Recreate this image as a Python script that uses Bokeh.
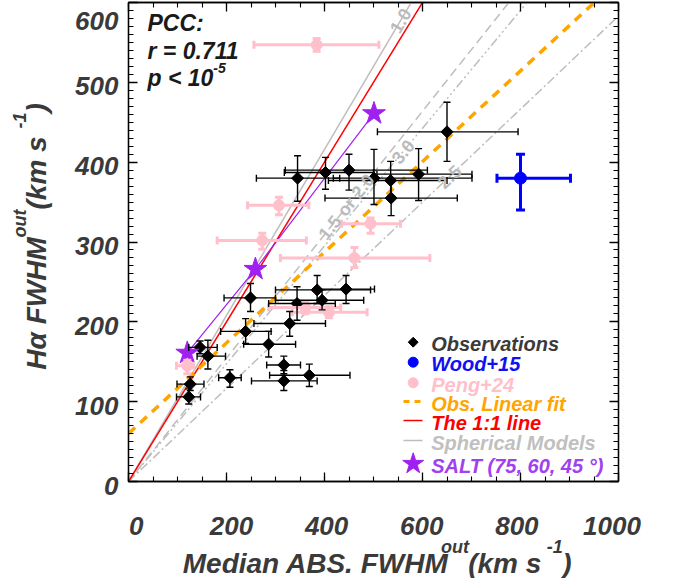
import math
from bokeh.plotting import figure
from bokeh.layouts import row, column
from bokeh.models import (Range1d, LinearAxis, SingleIntervalTicker, Label, Whisker,
                          ColumnDataSource, TeeHead)
from bokeh.embed import file_html
from bokeh.resources import INLINE

# ---------------- data ----------------
# Observations (black diamonds)
obs_x   = [650, 345, 402, 450, 501, 535, 592, 536, 249, 344, 385, 444, 395, 329, 239, 286, 317, 317, 369, 207, 146, 162, 126, 123]
obs_xlo = [508, 261, 318, 320, 418, 408, 507, 401, 195, 286, 300, 385, 300, 256, 188, 235, 282, 251, 288, 184, 123, 140, 99, 98]
obs_xhi = [795, 431, 500, 610, 701, 650, 701, 671, 300, 422, 494, 502, 480, 402, 291, 341, 351, 385, 452, 230, 181, 198, 154, 147]
obs_y   = [438, 380, 387, 390, 380, 377, 385, 355, 230, 223, 240, 241, 227, 198, 188, 172, 146, 126, 133, 130, 168, 157, 122, 106]
obs_ylo = [401, 351, 366, 365, 347, 354, 352, 333, 213, 202, 223, 223, 215, 182, 173, 156, 135, 114, 119, 118, 160, 141, 114, 97]
obs_yhi = [475, 408, 406, 410, 416, 401, 417, 377, 248, 244, 258, 258, 240, 213, 204, 188, 157, 139, 147, 140, 176, 177, 131, 116]

# Wood+15 (blue)
wood_x, wood_xlo, wood_xhi = [800], [752], [902]
wood_y, wood_ylo, wood_yhi = [380], [340], [410]

# Peng+24 (pink)
peng_x   = [384, 307, 273, 494, 461, 361, 409, 120]
peng_xlo = [256, 243, 181, 435, 310, 286, 334, 98]
peng_xhi = [511, 368, 363, 555, 615, 433, 487, 133]
peng_y   = [547, 346, 302, 323, 280, 218, 212, 145]
peng_ylo = [539, 334, 291, 311, 268, 210, 205, 135]
peng_yhi = [555, 356, 311, 330, 293, 225, 219, 152]

# SALT models (75, 60, 45 deg)
salt_x = [501, 259, 120]
salt_y = [461, 266, 161]

# Observational linear fit  y = a + b x
fit_a, fit_b = 60.0, 0.568

# Spherical models: slopes and labels
sph_slope = [1.04, 0.773, 0.7375, 0.583]
sph_label = ["1.0", "1.5 or 2.0", "3.0", "2.5"]
sph_dash  = ["solid", "9 5", "9 3 2 3 2 3 2 3", "9 3 2 3"]
sph_lab_x = [555, 445, 560, 655]

pcc_r = "0.711"

x_tick_values = [0, 200, 400, 600, 800, 1000]
y_tick_values = [0, 100, 200, 300, 400, 500, 600]
XMAX, YMAX = 1000, 600

# ---------------- geometry / style ----------------
FONT = "Liberation Sans"
DARK = "#3a3a3a"
PURPLE = "#A020F0"
FL, FT, FW, FH = 128, 2, 490, 479      # data frame on the page
FB = FT + FH
SX, SY = FW / XMAX, FH / YMAX
YW, PH = 120, 578                     # left strip width, page height used
MAIN_H = FB + 2
XF_W, XF_H = 550, PH - MAIN_H
ADJ = -5                              # baseline correction (px, page)

W = {' ': 278, '(': 333, ')': 333, '.': 278, '-': 333, ':': 333, '=': 584, '<': 584,
     'A': 722, 'B': 722, 'C': 722, 'F': 611, 'H': 722, 'M': 833, 'P': 667, 'S': 667,
     'W': 944, 'a': 556, 'd': 611, 'e': 556, 'i': 278, 'k': 556, 'm': 889, 'n': 611,
     'o': 611, 'p': 611, 'r': 389, 's': 556, 't': 333, 'u': 611, 'α': 612}


def tw(s, size):
    return sum(W.get(c, 556) for c in s) * size / 1000.0


def dxp(X):
    return (X - FL) / SX


def dyp(Y):
    return (FB - Y) / SY


# ---------------- main figure ----------------
p = figure(frame_width=FW, frame_height=FH, min_border_left=FL - YW, min_border_right=8,
           min_border_top=FT, min_border_bottom=2,
           x_range=Range1d(0, XMAX), y_range=Range1d(0, YMAX),
           output_backend="svg", toolbar_location=None)
p.grid.visible = False
p.outline_line_color = "black"
p.outline_line_width = 1.3
p.background_fill_color = "white"
p.border_fill_color = "white"

xt = SingleIntervalTicker(interval=200, num_minor_ticks=4)
yt = SingleIntervalTicker(interval=100, num_minor_ticks=10)


def style_axis(ax):
    ax.major_tick_in = 9
    ax.major_tick_out = 0
    ax.minor_tick_in = 5
    ax.minor_tick_out = 0
    ax.major_tick_line_color = "black"
    ax.minor_tick_line_color = "black"
    ax.major_tick_line_width = 1.3
    ax.minor_tick_line_width = 1.1
    ax.axis_line_color = "black"
    ax.axis_line_width = 1.3
    ax.major_label_text_color = None
    ax.major_label_text_font_size = "0px"
    ax.major_label_standoff = 0


p.xaxis.ticker = xt
p.yaxis.ticker = yt
style_axis(p.xaxis[0])
style_axis(p.yaxis[0])
top = LinearAxis(ticker=xt)
style_axis(top)
p.add_layout(top, "above")
right = LinearAxis(ticker=yt)
style_axis(right)
p.add_layout(right, "right")

# model lines
for k, lab, dash, lx in zip(sph_slope, sph_label, sph_dash, sph_lab_x):
    p.line([0, XMAX], [0, k * XMAX], line_color="#BEBEBE", line_width=1.5, line_dash=dash)
    ang = math.atan(k * SY / SX)
    p.add_layout(Label(x=lx, y=k * lx, text=lab, angle=ang, text_align="center",
                       text_baseline="middle", text_font=FONT, text_font_style="bold",
                       text_font_size="18px", text_color="#BBBBBB"))

p.line([0, XMAX], [0, XMAX], line_color="red", line_width=1.5)
p.line([0, XMAX], [fit_a, fit_a + fit_b * XMAX], line_color="#FFA500", line_width=3.5,
       line_dash="9 7")
p.line(salt_x, salt_y, line_color=PURPLE, line_width=1.2)


def bars(xs, xlo, xhi, ys, ylo, yhi, color, lw, cap):
    src = ColumnDataSource(dict(x=xs, xlo=xlo, xhi=xhi, y=ys, ylo=ylo, yhi=yhi))
    for dim, base, lo, hi in (("width", "y", "xlo", "xhi"), ("height", "x", "ylo", "yhi")):
        w = Whisker(source=src, base=base, lower=lo, upper=hi, dimension=dim,
                    line_color=color, line_width=lw, level="glyph",
                    lower_head=TeeHead(size=cap, line_color=color, line_width=lw),
                    upper_head=TeeHead(size=cap, line_color=color, line_width=lw))
        p.add_layout(w)
    return src


ps = bars(peng_x, peng_xlo, peng_xhi, peng_y, peng_ylo, peng_yhi, "#FFC0CB", 3, 8)
os_ = bars(obs_x, obs_xlo, obs_xhi, obs_y, obs_ylo, obs_yhi, "black", 1.4, 7)
ws = bars(wood_x, wood_xlo, wood_xhi, wood_y, wood_ylo, wood_yhi, "#0000FF", 3, 9)

p.scatter("x", "y", source=ps, marker="circle", size=11, color="#FFC0CB")
p.scatter("x", "y", source=os_, marker="square", angle=math.pi / 4, size=8.5, color="black")
p.scatter("x", "y", source=ws, marker="circle", size=12, color="#0000FF")
p.scatter(salt_x, salt_y, marker="star", size=24, color=PURPLE)


def main_text(X, Y, text, size, color):
    p.add_layout(Label(x=X - FL, y=FB - (Y + ADJ), x_units="screen", y_units="screen",
                       text=text, text_align="left", text_baseline="alphabetic",
                       text_font=FONT, text_font_style="bold italic",
                       text_font_size=f"{size}px", text_color=color))


PCC_C = "#1a1a1a"
main_text(147, 27, "PCC:", 23, PCC_C)
main_text(147, 55, "r = " + pcc_r, 23, PCC_C)
main_text(147, 82, "p < 10", 23, PCC_C)
main_text(147 + tw("p < 10", 23), 72, "-5", 14, PCC_C)

# legend
LX, TX = 412.7, 430.7
rows = [341.7, 361.7, 382.3, 401, 420, 440, 463.3]
leg = [("Observations", DARK), ("Wood+15", "#1010F0"), ("Peng+24", "#FFC0CB"),
       ("Obs. Linear fit", "#FFA500"), ("The 1:1 line", "red"),
       ("Spherical Models", "#C0C0C0"), ("SALT (75, 60, 45 °)", "#A040F0")]
for (t, c), r in zip(leg, rows):
    main_text(TX, r + 7, t, 20, c)

ry = [dyp(r) for r in rows]
p.scatter([dxp(LX)], [ry[0]], marker="square", angle=math.pi / 4, size=7, color="black")
p.scatter([dxp(LX)], [ry[1]], marker="circle", size=10, color="#0000FF")
p.scatter([dxp(LX)], [ry[2]], marker="circle", size=10, color="#FFC0CB")
p.line([dxp(403), dxp(422)], [ry[3], ry[3]], line_color="#FFA500", line_width=3, line_dash="6 5")
p.line([dxp(403), dxp(422)], [ry[4], ry[4]], line_color="red", line_width=1.5)
p.line([dxp(403), dxp(422)], [ry[5], ry[5]], line_color="#BEBEBE", line_width=1.5)
p.scatter([dxp(LX)], [ry[6]], marker="star", size=22, color=PURPLE)


# ---------------- side strips for tick labels and axis titles ----------------
def strip(w, h):
    f = figure(width=w, height=h, x_range=Range1d(0, w), y_range=Range1d(0, h),
               min_border=0, toolbar_location=None, output_backend="svg",
               x_axis_location=None, y_axis_location=None)
    f.grid.visible = False
    f.outline_line_color = None
    return f


def strip_text(f, x, y, text, size, color=DARK, angle=0.0, align="left"):
    f.add_layout(Label(x=x, y=y, text=text, angle=angle, text_align=align,
                       text_baseline="alphabetic", text_font=FONT,
                       text_font_style="bold italic", text_font_size=f"{size}px",
                       text_color=color))


TICK_FS = 26
TFS, SFS, RISE = 28, 18, 17
# left strip: page x 0..YW, page y 0..PH  (data y = PH - Y)
yf = strip(YW, PH)
for v in y_tick_values:
    Yc = FB - v * SY
    base = max(Yc + 9, FT + 23)
    strip_text(yf, YW - 2, PH - (base + ADJ), str(v), TICK_FS, align="right")

ytitle = [("Hα FWHM", TFS, 0), ("out", SFS, RISE), (" (km s", TFS, 0), ("-1", SFS, RISE), (")", TFS, 0)]
ytot = sum(tw(t, s) for t, s, _ in ytitle)
pos = 0.0
for t, s, rise in ytitle:
    strip_text(yf, 41 + ADJ - rise, PH - (236 + ytot / 2) + pos, t, s, angle=math.pi / 2)
    pos += tw(t, s)

# bottom strip: page x YW..YW+XF_W, page y MAIN_H..PH  (data y = PH - Y)
xf = strip(XF_W, XF_H)
for v in x_tick_values:
    strip_text(xf, FL + v * SX - YW, PH - (530 + ADJ), str(v), TICK_FS, align="center")

xtitle = [("Median ABS. FWHM", TFS, 0), ("out", SFS, RISE), (" (km s", TFS, 0), ("-1", SFS, RISE), (")", TFS, 0)]
xtot = sum(tw(t, s) for t, s, _ in xtitle)
pos = 0.0
for t, s, rise in xtitle:
    strip_text(xf, 376 - xtot / 2 + pos - YW, PH - (568 + ADJ) + rise, t, s)
    pos += tw(t, s)

layout = row(yf, column(p, xf))
open("out.html", "w").write(file_html(layout, INLINE))
